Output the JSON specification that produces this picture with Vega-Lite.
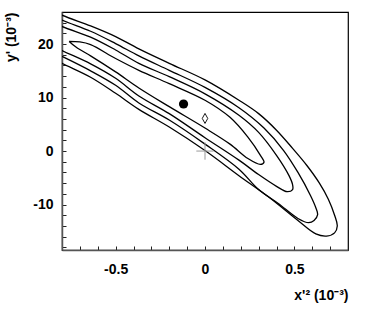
{
  "$schema": "https://vega.github.io/schema/vega-lite/v6.json",
  "autosize": "none",
  "width": 286,
  "height": 238,
  "padding": {"left": 62, "top": 12, "right": 22, "bottom": 62},
  "background": "white",
  "config": {
    "view": {"stroke": "black", "strokeWidth": 1.2},
    "axis": {
      "labelFont": "Liberation Sans", "labelFontWeight": "bold", "labelFontSize": 14, "labelColor": "black",
      "titleFont": "Liberation Sans", "titleFontWeight": "bold", "titleFontSize": 14, "titleColor": "black",
      "domainColor": "#555", "domainWidth": 1.5, "ticks": true, "tickColor": "#222", "tickWidth": 1, "tickSize": -4,
      "grid": false,
      "labelOverlap": false, "labelBound": false, "labelFlush": false, "zindex": 1
    }
  },
  "datasets": {
    "contours": [
      {"c": "c4", "i": 0, "x": -0.92, "y": 27.3},
      {"c": "c4", "i": 1, "x": -0.80, "y": 25.4},
      {"c": "c4", "i": 2, "x": -0.64, "y": 23.4},
      {"c": "c4", "i": 3, "x": -0.50, "y": 21.4},
      {"c": "c4", "i": 4, "x": -0.37, "y": 19.1},
      {"c": "c4", "i": 5, "x": -0.20, "y": 16.4},
      {"c": "c4", "i": 6, "x": 0.00, "y": 13.3},
      {"c": "c4", "i": 7, "x": 0.19, "y": 9.5},
      {"c": "c4", "i": 8, "x": 0.30, "y": 7.0},
      {"c": "c4", "i": 9, "x": 0.40, "y": 3.9},
      {"c": "c4", "i": 10, "x": 0.49, "y": 0.5},
      {"c": "c4", "i": 11, "x": 0.57, "y": -2.7},
      {"c": "c4", "i": 12, "x": 0.64, "y": -6.0},
      {"c": "c4", "i": 13, "x": 0.69, "y": -9.0},
      {"c": "c4", "i": 14, "x": 0.725, "y": -12.0},
      {"c": "c4", "i": 15, "x": 0.74, "y": -14.0},
      {"c": "c4", "i": 16, "x": 0.725, "y": -15.3},
      {"c": "c4", "i": 17, "x": 0.68, "y": -15.9},
      {"c": "c4", "i": 18, "x": 0.62, "y": -15.5},
      {"c": "c4", "i": 19, "x": 0.52, "y": -13.0},
      {"c": "c4", "i": 20, "x": 0.36, "y": -8.7},
      {"c": "c4", "i": 21, "x": 0.19, "y": -4.6},
      {"c": "c4", "i": 22, "x": 0.00, "y": 0.1},
      {"c": "c4", "i": 23, "x": -0.20, "y": 4.5},
      {"c": "c4", "i": 24, "x": -0.37, "y": 7.8},
      {"c": "c4", "i": 25, "x": -0.50, "y": 10.8},
      {"c": "c4", "i": 26, "x": -0.64, "y": 13.8},
      {"c": "c4", "i": 27, "x": -0.80, "y": 16.4},
      {"c": "c4", "i": 28, "x": -0.92, "y": 18.5},

      {"c": "c3", "i": 0, "x": -0.92, "y": 26.4},
      {"c": "c3", "i": 1, "x": -0.80, "y": 24.5},
      {"c": "c3", "i": 2, "x": -0.64, "y": 22.4},
      {"c": "c3", "i": 3, "x": -0.50, "y": 20.1},
      {"c": "c3", "i": 4, "x": -0.37, "y": 17.8},
      {"c": "c3", "i": 5, "x": -0.20, "y": 15.1},
      {"c": "c3", "i": 6, "x": 0.00, "y": 11.9},
      {"c": "c3", "i": 7, "x": 0.19, "y": 8.1},
      {"c": "c3", "i": 8, "x": 0.33, "y": 4.3},
      {"c": "c3", "i": 9, "x": 0.44, "y": 0.1},
      {"c": "c3", "i": 10, "x": 0.52, "y": -4.0},
      {"c": "c3", "i": 11, "x": 0.59, "y": -8.3},
      {"c": "c3", "i": 12, "x": 0.62, "y": -10.6},
      {"c": "c3", "i": 13, "x": 0.63, "y": -11.9},
      {"c": "c3", "i": 14, "x": 0.61, "y": -13.0},
      {"c": "c3", "i": 15, "x": 0.58, "y": -13.4},
      {"c": "c3", "i": 16, "x": 0.52, "y": -12.6},
      {"c": "c3", "i": 17, "x": 0.41, "y": -9.8},
      {"c": "c3", "i": 18, "x": 0.30, "y": -7.2},
      {"c": "c3", "i": 19, "x": 0.19, "y": -3.4},
      {"c": "c3", "i": 20, "x": 0.00, "y": 1.3},
      {"c": "c3", "i": 21, "x": -0.20, "y": 5.8},
      {"c": "c3", "i": 22, "x": -0.37, "y": 9.0},
      {"c": "c3", "i": 23, "x": -0.50, "y": 12.3},
      {"c": "c3", "i": 24, "x": -0.64, "y": 15.0},
      {"c": "c3", "i": 25, "x": -0.80, "y": 17.7},
      {"c": "c3", "i": 26, "x": -0.92, "y": 19.6},

      {"c": "c2", "i": 0, "x": -0.92, "y": 25.3},
      {"c": "c2", "i": 1, "x": -0.80, "y": 23.3},
      {"c": "c2", "i": 2, "x": -0.64, "y": 21.3},
      {"c": "c2", "i": 3, "x": -0.50, "y": 18.9},
      {"c": "c2", "i": 4, "x": -0.37, "y": 16.4},
      {"c": "c2", "i": 5, "x": -0.20, "y": 13.9},
      {"c": "c2", "i": 6, "x": 0.00, "y": 10.7},
      {"c": "c2", "i": 7, "x": 0.19, "y": 6.7},
      {"c": "c2", "i": 8, "x": 0.30, "y": 3.5},
      {"c": "c2", "i": 9, "x": 0.40, "y": -0.8},
      {"c": "c2", "i": 10, "x": 0.47, "y": -4.6},
      {"c": "c2", "i": 11, "x": 0.49, "y": -6.3},
      {"c": "c2", "i": 12, "x": 0.49, "y": -7.2},
      {"c": "c2", "i": 13, "x": 0.46, "y": -7.6},
      {"c": "c2", "i": 14, "x": 0.40, "y": -6.6},
      {"c": "c2", "i": 15, "x": 0.30, "y": -4.4},
      {"c": "c2", "i": 16, "x": 0.19, "y": -1.7},
      {"c": "c2", "i": 17, "x": 0.00, "y": 2.5},
      {"c": "c2", "i": 18, "x": -0.20, "y": 7.0},
      {"c": "c2", "i": 19, "x": -0.37, "y": 10.3},
      {"c": "c2", "i": 20, "x": -0.50, "y": 13.6},
      {"c": "c2", "i": 21, "x": -0.64, "y": 16.3},
      {"c": "c2", "i": 22, "x": -0.80, "y": 18.8},
      {"c": "c2", "i": 23, "x": -0.92, "y": 20.8},

      {"c": "c1", "i": 0, "x": -0.76, "y": 20.5},
      {"c": "c1", "i": 1, "x": -0.70, "y": 20.4},
      {"c": "c1", "i": 2, "x": -0.64, "y": 19.9},
      {"c": "c1", "i": 3, "x": -0.50, "y": 17.3},
      {"c": "c1", "i": 4, "x": -0.37, "y": 15.1},
      {"c": "c1", "i": 5, "x": -0.20, "y": 12.6},
      {"c": "c1", "i": 6, "x": 0.00, "y": 9.5},
      {"c": "c1", "i": 7, "x": 0.14, "y": 6.3},
      {"c": "c1", "i": 8, "x": 0.24, "y": 2.6},
      {"c": "c1", "i": 9, "x": 0.31, "y": -0.8},
      {"c": "c1", "i": 10, "x": 0.33, "y": -2.1},
      {"c": "c1", "i": 11, "x": 0.31, "y": -2.5},
      {"c": "c1", "i": 12, "x": 0.24, "y": -1.4},
      {"c": "c1", "i": 13, "x": 0.14, "y": 1.3},
      {"c": "c1", "i": 14, "x": 0.00, "y": 4.3},
      {"c": "c1", "i": 15, "x": -0.20, "y": 8.3},
      {"c": "c1", "i": 16, "x": -0.37, "y": 11.8},
      {"c": "c1", "i": 17, "x": -0.50, "y": 14.8},
      {"c": "c1", "i": 18, "x": -0.64, "y": 17.8},
      {"c": "c1", "i": 19, "x": -0.72, "y": 19.4},
      {"c": "c1", "i": 20, "x": -0.76, "y": 20.5}
    ],
    "points": [
      {"kind": "best", "x": -0.12, "y": 8.8},
      {"kind": "alt", "x": 0.0, "y": 6.1},
      {"kind": "origin", "x": 0.0, "y": 0.0}
    ]
  },
  "encoding": {
    "x": {"field": "x", "type": "quantitative",
          "scale": {"domain": [-0.8, 0.8], "nice": false, "zero": false},
          "axis": {"values": [-0.7,-0.6,-0.5,-0.4,-0.3,-0.2,-0.1,0,0.1,0.2,0.3,0.4,0.5,0.6,0.7],
                   "labelExpr": "datum.value === -0.5 ? '-0.5' : datum.value === 0 ? '0' : datum.value === 0.5 ? '0.5' : ''",
                   "labelPadding": 16,
                   "title": "x'² (10⁻³)", "titleAnchor": "end", "titlePadding": 12}},
    "y": {"field": "y", "type": "quantitative",
          "scale": {"domain": [-18.5, 26], "nice": false, "zero": false},
          "axis": {"values": [-18,-16,-14,-12,-10,-8,-6,-4,-2,0,2,4,6,8,10,12,14,16,18,20,22,24],
                   "labelExpr": "datum.value === -10 ? '-10' : datum.value === 0 ? '0' : datum.value === 10 ? '10' : datum.value === 20 ? '20' : ''",
                   "labelPadding": 13,
                   "title": "y' (10⁻³)", "titleAnchor": "end", "titlePadding": 14}}
  },
  "layer": [
    {
      "data": {"name": "contours"},
      "mark": {"type": "line", "clip": true, "color": "black", "strokeWidth": 1.3, "interpolate": "catmull-rom"},
      "encoding": {
        "detail": {"field": "c"},
        "order": {"field": "i", "type": "quantitative"}
      }
    },
    {
      "data": {"name": "points"},
      "transform": [{"filter": "datum.kind === 'best'"}],
      "mark": {"type": "point", "filled": true, "color": "black", "shape": "circle", "size": 85, "opacity": 1}
    },
    {
      "data": {"name": "points"},
      "transform": [{"filter": "datum.kind === 'alt'"}],
      "mark": {"type": "point", "filled": false, "color": "black", "strokeWidth": 0.9, "shape": "M0,-1L0.55,0L0,1L-0.55,0Z", "size": 100, "opacity": 1}
    },
    {
      "data": {"name": "points"},
      "transform": [{"filter": "datum.kind === 'origin'"}],
      "mark": {"type": "point", "filled": false, "color": "#999", "strokeWidth": 1, "shape": "M-1,0L1,0M0,-1L0,1", "size": 300, "opacity": 1}
    }
  ]
}
